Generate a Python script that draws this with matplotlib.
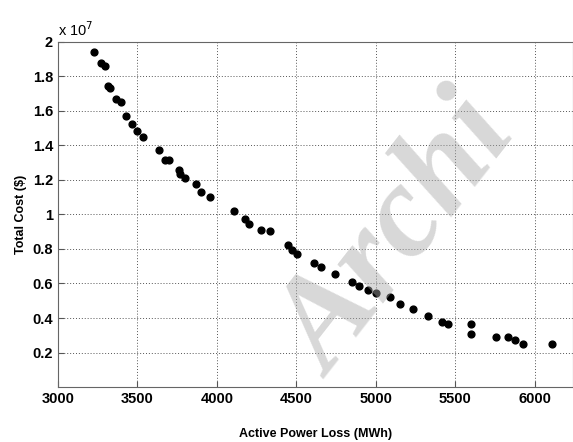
import matplotlib.pyplot as plt

# Pareto front: active power loss (MWh) vs total cost (x 1e7 $)
power_loss = [3229, 3273, 3294, 3317, 3325, 3365, 3395, 3430, 3468, 3497,
              3535, 3638, 3676, 3699, 3760, 3770, 3802, 3869, 3902, 3959,
              4108, 4178, 4201, 4276, 4333, 4446, 4475, 4507, 4612, 4658,
              4740, 4851, 4891, 4952, 4998, 5091, 5152, 5236, 5326, 5414,
              5452, 5601, 5601, 5758, 5829, 5876, 5926, 6109]
total_cost = [1.937, 1.876, 1.858, 1.740, 1.729, 1.669, 1.652, 1.572, 1.522, 1.485,
              1.449, 1.370, 1.316, 1.316, 1.258, 1.235, 1.213, 1.177, 1.131, 1.098,
              1.021, 0.976, 0.944, 0.911, 0.903, 0.820, 0.795, 0.768, 0.721, 0.695,
              0.654, 0.610, 0.586, 0.563, 0.546, 0.523, 0.484, 0.452, 0.411, 0.376,
              0.368, 0.368, 0.309, 0.289, 0.289, 0.272, 0.252, 0.252]

x_ticks = [3000, 3500, 4000, 4500, 5000, 5500, 6000]
y_ticks = [0.2, 0.4, 0.6, 0.8, 1.0, 1.2, 1.4, 1.6, 1.8, 2.0]
y_tick_labels = ['0.2', '0.4', '0.6', '0.8', '1', '1.2', '1.4', '1.6', '1.8', '2']

plt.rcParams['font.family'] = ['Liberation Sans', 'DejaVu Sans']
narrow = ['Liberation Sans Narrow', 'Liberation Sans']

fig = plt.figure(figsize=(5.73, 4.42), dpi=100)
ax = fig.add_axes([0.101, 0.124, 0.899, 0.782])

ax.scatter(power_loss, total_cost, s=24, color='black', zorder=3)

ax.set_xlim(3000, 6240)
ax.set_ylim(0, 2.0)
ax.set_xticks(x_ticks)
ax.set_yticks(y_ticks)
ax.set_yticklabels(y_tick_labels)
ax.tick_params(direction='in', length=4, color='#555555')
for lbl in ax.get_xticklabels() + ax.get_yticklabels():
    lbl.set_fontweight('bold')
    lbl.set_family(narrow)
    lbl.set_fontsize(10.5)

ax.grid(True, linestyle=(0, (1, 2)), color='#555555', linewidth=0.7)
for sp in ax.spines.values():
    sp.set_color('#666666')

ax.text(0.0, 1.008, r'x 10$^{7}$', transform=ax.transAxes, fontsize=10.5,
        family=narrow, ha='left', va='bottom')
ax.set_xlabel('Active Power Loss (MWh)', fontsize=9, fontweight='bold', labelpad=16)
ax.set_ylabel('Total Cost ($)', fontsize=9, fontweight='bold', labelpad=4)

# semi-transparent watermark laid over the chart
fig.text(0.70, 0.46, 'Archi', fontsize=95, family='Liberation Serif',
         fontweight='bold', fontstyle='italic', color='#a8a8a8', alpha=0.45,
         rotation=52, ha='center', va='center', zorder=10)

fig.savefig('out.png', dpi=100)
